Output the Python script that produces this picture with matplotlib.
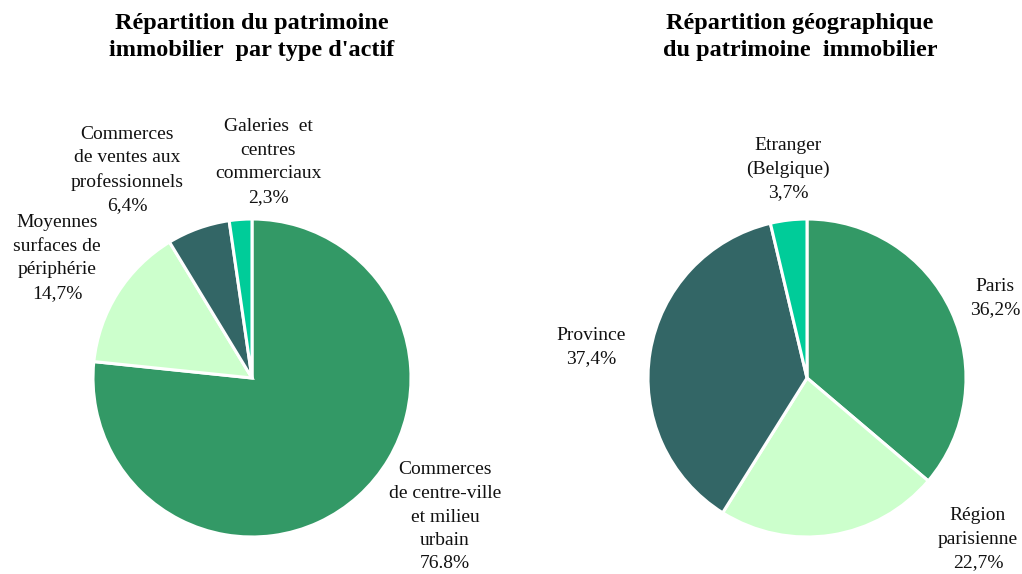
import matplotlib
matplotlib.use("Agg")
import matplotlib.pyplot as plt
import numpy as np

# ---- data ----
left_title = "Répartition du patrimoine\nimmobilier  par type d'actif"
left_labels = ["Commerces\nde centre-ville\net milieu\nurbain\n76.8%",
               "Moyennes\nsurfaces de\npériphérie\n14,7%",
               "Commerces\nde ventes aux\nprofessionnels\n6,4%",
               "Galeries  et\ncentres\ncommerciaux\n2,3%"]
left_values = [76.8, 14.7, 6.4, 2.3]

right_title = "Répartition géographique\ndu patrimoine  immobilier"
right_labels = ["Paris\n36,2%", "Région\nparisienne\n22,7%",
                "Province\n37,4%", "Etranger\n(Belgique)\n3,7%"]
right_values = [36.2, 22.7, 37.4, 3.7]

colors = ["#339966", "#CCFFCC", "#336666", "#00CC99"]

# ---- layout (pixel space, y up) ----
W, H = 1022, 574
fig = plt.figure(figsize=(W / 100, H / 100), dpi=100)
ax = fig.add_axes([0, 0, 1, 1])

serif = ["Liberation Serif", "DejaVu Serif"]
R = 159

def draw(cx, cy, values, labels, label_pos, title, tx):
    ax.pie(values, colors=colors, startangle=90, counterclock=False,
           center=(cx, cy), radius=R, normalize=True,
           wedgeprops=dict(edgecolor="white", linewidth=2.2))
    for lab, (dx, dy) in zip(labels, label_pos):
        ax.text(cx + dx, cy + dy, lab, ha="center", va="center",
                fontsize=14, family=serif, linespacing=1.5, color="#111111")
    ax.text(tx, H - 37, title, ha="center", va="center", fontsize=17.5,
            fontweight="bold", family=serif, linespacing=1.42)

draw(252, H - 378, left_values, left_labels,
     [(193, -139), (-195, 120), (-125, 208), (16, 216)],
     left_title, 252)
draw(807, H - 378, right_values, right_labels,
     [(188, 80), (171, -161), (-216, 31), (-19, 209)],
     right_title, 800)

ax.set_xlim(0, W)
ax.set_ylim(0, H)
ax.set_aspect("equal")
ax.axis("off")

fig.savefig("out.png", dpi=100)
